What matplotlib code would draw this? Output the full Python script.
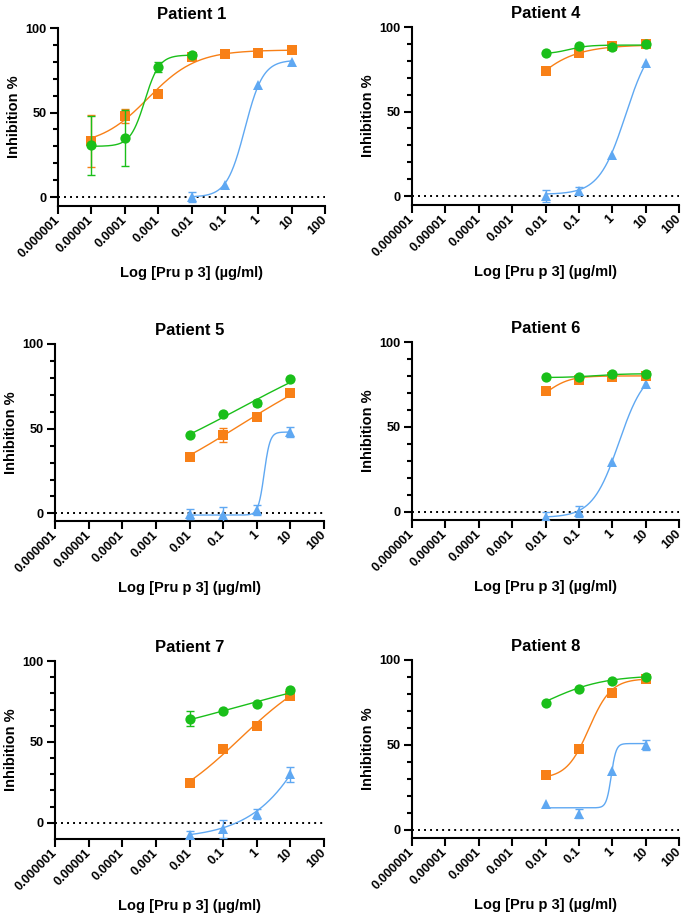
import numpy as np
import matplotlib
matplotlib.use("Agg")
import matplotlib.pyplot as plt
from matplotlib.ticker import FixedLocator, NullLocator

plt.rcParams['font.family'] = ['Liberation Sans', 'DejaVu Sans']
plt.rcParams['font.weight'] = 'bold'

# ---------------- data ----------------
x_ticks = [1e-6, 1e-5, 1e-4, 1e-3, 1e-2, 1e-1, 1, 10, 100]
x_tick_labels = ["0.000001", "0.00001", "0.0001", "0.001", "0.01", "0.1", "1", "10", "100"]
y_major = [0, 50, 100]
y_minor = [10, 20, 30, 40, 60, 70, 80, 90]

titles = ["Patient 1", "Patient 4", "Patient 5", "Patient 6", "Patient 7", "Patient 8"]

conc_std = [0.01, 0.1, 1, 10]
conc_p1_green = [1e-5, 1e-4, 1e-3, 1e-2]
conc_p1_orange = [1e-5, 1e-4, 1e-3, 1e-2, 1e-1, 1, 10]
conc_p1_blue = [1e-2, 1e-1, 1, 10]

# Patient 1
p1_green = [30.5, 35.0, 77.0, 84.0]
p1_green_err = [17.5, 16.7, 3.0, 0]
p1_orange = [33.0, 48.0, 61.0, 83.0, 84.5, 85.0, 87.0]
p1_orange_err = [15.5, 4.0, 0, 0, 0, 0, 0]
p1_blue = [0.0, 7.0, 66.0, 80.0]
p1_blue_err = [3.0, 0, 0, 0]
# Patient 4
p4_green = [84.4, 88.8, 88.0, 89.8]
p4_green_err = [0, 0, 0, 0]
p4_orange = [73.8, 84.4, 88.8, 89.8]
p4_orange_err = [0, 0, 0, 0]
p4_blue = [-0.2, 3.0, 24.4, 78.7]
p4_blue_err = [3.5, 2.5, 0, 0]
# Patient 5
p5_green = [46.3, 58.5, 65.2, 79.5]
p5_green_err = [0, 0, 2.0, 0]
p5_orange = [33.5, 46.3, 57.1, 71.1]
p5_orange_err = [2.0, 4.0, 0, 1.0]
p5_blue = [-0.5, -1.0, 2.0, 48.0]
p5_blue_err = [3.0, 5.0, 3.0, 3.0]
# Patient 6
p6_green = [79.1, 79.5, 81.1, 81.3]
p6_green_err = [0, 0, 0, 0]
p6_orange = [70.9, 77.6, 79.5, 79.9]
p6_orange_err = [0, 0, 0, 0]
p6_blue = [-3.5, 0.0, 29.3, 75.4]
p6_blue_err = [3.5, 3.0, 0, 0]
# Patient 7
p7_green = [64.3, 69.3, 73.6, 81.9]
p7_green_err = [4.6, 0, 0, 0]
p7_orange = [24.5, 45.8, 59.6, 78.1]
p7_orange_err = [2.0, 0, 0, 0]
p7_blue = [-7.8, -3.7, 5.4, 29.9]
p7_blue_err = [2.5, 5.5, 3.0, 4.5]
# Patient 8
p8_green = [74.7, 82.9, 87.8, 90.2]
p8_green_err = [0, 0, 0, 0]
p8_orange = [32.2, 47.3, 80.7, 88.6]
p8_orange_err = [0, 0, 0, 0]
p8_blue = [15.3, 9.4, 34.4, 50.1]
p8_blue_err = [0, 2.5, 0, 3.0]

# fitted curve parameters: (bottom, top, logEC50, hill)
fit_green = [(30, 84, -3.4, 2.0), (84, 89.3, -1.3, 1.5), (12, 112, -0.5, 0.184),
             (79, 81.3, -0.5, 1.0), (42, 102, -0.5, 0.165), (60, 91, -2.0, 0.5)]
fit_orange = [(30, 87, -3.3, 0.6), (0, 89.5, -3.24, 0.55), (2, 102, -0.5, 0.215),
              (60, 80, -2.0, 1.2), (2, 102, -0.5, 0.34), (30, 89, -0.7, 1.3)]
fit_blue = [(0, 81, -0.4, 1.6), (1, 95, 0.4, 1.1), (-1, 48, 0.22, 5.0),
            (-3.5, 85, 0.2, 1.1), (-10, 190, 2.44, 0.42), (12.8, 50.7, -0.03, 6.0)]

y_bottoms = [-5.3, -5.3, -4.5, -5, -10, -5]

# ---------------- style ----------------
GREEN = "#1ABF1A"
ORANGE = "#F88017"
BLUE = "#5FA8F2"

axes_px = [  # left, right, top, bottom in pixels of 685x924 figure
    (58, 325, 28, 206), (412, 679, 27, 205),
    (55, 324, 344, 521), (412, 679, 342, 520),
    (55, 324, 661, 839), (412, 679, 660, 838),
]
W, H = 685, 924

fig = plt.figure(figsize=(W / 100, H / 100), dpi=100)

series_sets = [
    (conc_p1_green, p1_green, p1_green_err, conc_p1_orange, p1_orange, p1_orange_err, conc_p1_blue, p1_blue, p1_blue_err),
    (conc_std, p4_green, p4_green_err, conc_std, p4_orange, p4_orange_err, conc_std, p4_blue, p4_blue_err),
    (conc_std, p5_green, p5_green_err, conc_std, p5_orange, p5_orange_err, conc_std, p5_blue, p5_blue_err),
    (conc_std, p6_green, p6_green_err, conc_std, p6_orange, p6_orange_err, conc_std, p6_blue, p6_blue_err),
    (conc_std, p7_green, p7_green_err, conc_std, p7_orange, p7_orange_err, conc_std, p7_blue, p7_blue_err),
    (conc_std, p8_green, p8_green_err, conc_std, p8_orange, p8_orange_err, conc_std, p8_blue, p8_blue_err),
]


def logistic(x, params):
    b, t, c, h = params
    return b + (t - b) / (1 + 10 ** ((c - np.log10(x)) * h))


def draw_series(ax, xs, ys, errs, params, color, marker, ms, z):
    xs = np.asarray(xs, float)
    ys = np.asarray(ys, float)
    errs = np.asarray(errs, float)
    xx = np.logspace(np.log10(xs.min()), np.log10(xs.max()), 300)
    ax.plot(xx, logistic(xx, params), color=color, lw=1.0, zorder=z, solid_capstyle='butt')
    m = errs > 0
    if m.any():
        ax.errorbar(xs[m], ys[m], yerr=errs[m], fmt='none', ecolor=color, elinewidth=1.0,
                    capsize=3.2, capthick=1.0, zorder=z + 0.1)
    ax.plot(xs, ys, linestyle='none', marker=marker, ms=ms, color=color,
            markeredgewidth=0, zorder=z + 0.2)


for i, (l, r, t, b) in enumerate(axes_px):
    ax = fig.add_axes([l / W, 1 - b / H, (r - l) / W, (b - t) / H])
    s = series_sets[i]
    ax.axhline(0, color='black', lw=1.4, linestyle=(0, (1, 2.1)), zorder=1)
    draw_series(ax, s[6], s[7], s[8], fit_blue[i], BLUE, '^', 7.4, 3)
    draw_series(ax, s[3], s[4], s[5], fit_orange[i], ORANGE, 's', 6.8, 4)
    draw_series(ax, s[0], s[1], s[2], fit_green[i], GREEN, 'o', 7.4, 5)

    ax.set_xscale('log')
    ax.set_xlim(1e-6, 100)
    ax.set_ylim(y_bottoms[i], 100)
    for sp in ['top', 'right']:
        ax.spines[sp].set_visible(False)
    for sp in ['left', 'bottom']:
        ax.spines[sp].set_linewidth(1.5)
    ax.xaxis.set_major_locator(FixedLocator(x_ticks))
    ax.xaxis.set_minor_locator(NullLocator())
    ax.set_xticklabels(x_tick_labels, rotation=45, ha='right', va='center',
                       rotation_mode='anchor', fontsize=9.2, fontweight='bold')
    ax.yaxis.set_major_locator(FixedLocator(y_major))
    ax.yaxis.set_minor_locator(FixedLocator(y_minor))
    ax.set_yticklabels([str(v) for v in y_major], fontsize=9.2, fontweight='bold')
    ax.tick_params(axis='both', which='major', direction='out', length=5.5, width=1.5, pad=2.5)
    ax.tick_params(axis='y', which='minor', direction='out', length=3.5, width=1.5)
    ax.tick_params(axis='x', which='major', pad=3)

    ax.set_xlabel("Log [Pru p 3] (µg/ml)", fontsize=10.5, fontweight='bold', va='center')
    ax.xaxis.set_label_coords(0.5, -0.378)
    ax.set_ylabel("Inhibition %", fontsize=10.5, fontweight='bold', va='center')
    ax.yaxis.set_label_coords(-0.165, 0.5)
    ax.text(0.5, 1.075, titles[i], transform=ax.transAxes, ha='center', va='center',
            fontsize=12, fontweight='bold')

fig.savefig("out.png", dpi=100, facecolor='white')
